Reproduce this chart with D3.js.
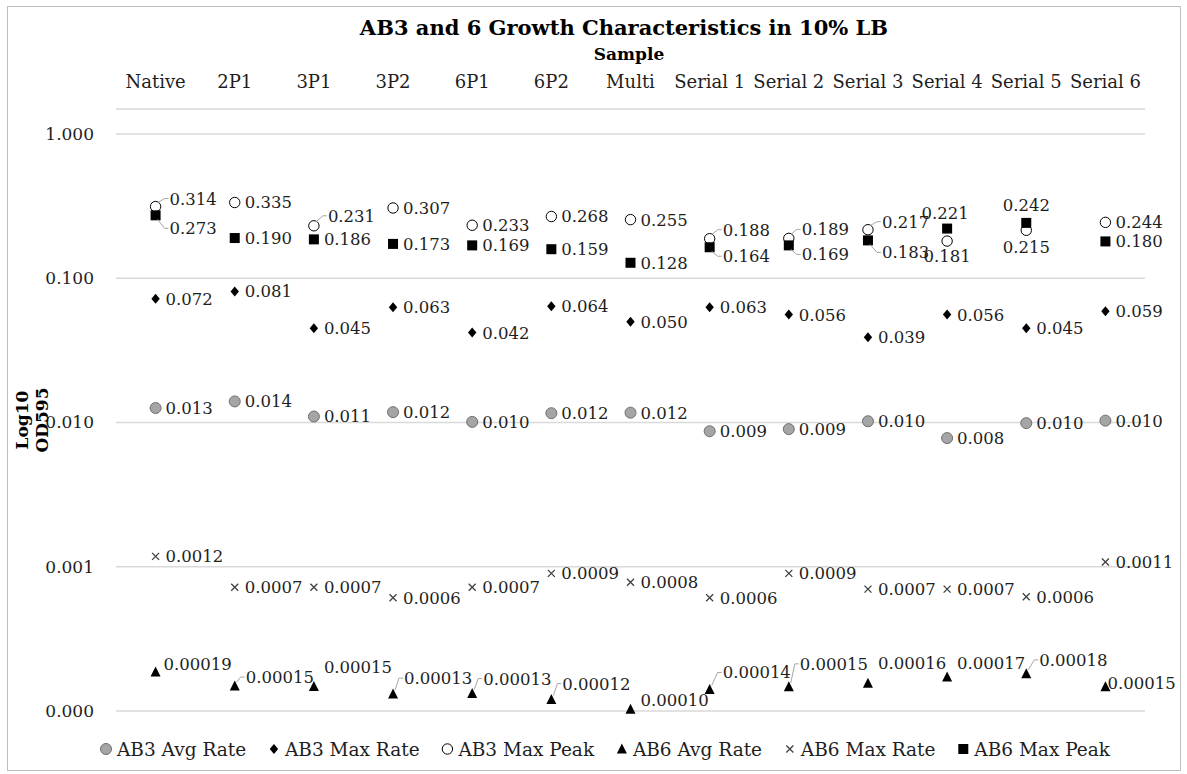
<!DOCTYPE html>
<html>
<head>
<meta charset="utf-8">
<script src="https://cdn.jsdelivr.net/npm/d3@7"></script>
<style>
  html, body { margin: 0; padding: 0; background: #fff; }
  svg { display: block; font-family: "DejaVu Serif", serif; }
</style>
</head>
<body>
<svg id="chart" width="1187" height="774"></svg>
<script>
// ---------------- DATA ----------------
const categories = ["Native", "2P1", "3P1", "3P2", "6P1", "6P2", "Multi",
  "Serial 1", "Serial 2", "Serial 3", "Serial 4", "Serial 5", "Serial 6"];

const ab3AvgRate = [0.0126, 0.0140, 0.0110, 0.0118, 0.0101, 0.0116, 0.0117, 0.0087, 0.0090, 0.0102, 0.0078, 0.0099, 0.0103];
const ab3MaxRate = [0.072, 0.081, 0.045, 0.063, 0.042, 0.064, 0.050, 0.063, 0.056, 0.039, 0.056, 0.045, 0.059];
const ab3MaxPeak = [0.314, 0.335, 0.231, 0.307, 0.233, 0.268, 0.255, 0.188, 0.189, 0.217, 0.181, 0.215, 0.244];
const ab6AvgRate = [0.000186, 0.000149, 0.000148, 0.000131, 0.000132, 0.000120, 0.000103, 0.000141, 0.000147, 0.000156, 0.000172, 0.000181, 0.000147];
const ab6MaxRate = [0.00118, 0.00072, 0.00072, 0.00061, 0.00072, 0.00090, 0.00078, 0.00061, 0.00090, 0.00070, 0.00070, 0.00062, 0.00108];
const ab6MaxPeak = [0.273, 0.190, 0.186, 0.173, 0.169, 0.159, 0.128, 0.164, 0.169, 0.183, 0.221, 0.242, 0.180];

const seriesNames = ["AB3 Avg Rate", "AB3 Max Rate", "AB3 Max Peak", "AB6 Avg Rate", "AB6 Max Rate", "AB6 Max Peak"];
const seriesDecimals = [3, 3, 3, 5, 4, 3];

const yTickValues = [1, 0.1, 0.01, 0.001, 0.0001];
const yTickLabels = ["1.000", "0.100", "0.010", "0.001", "0.000"];

const titleText = "AB3 and 6 Growth Characteristics in 10% LB";
const xAxisTitle = "Sample";
const yAxisTitleLines = ["Log10", "OD595"];

// ---------------- LAYOUT ----------------
const plot = { left: 116, right: 1145, top: 134, bottom: 711 };
const seriesValues = [ab3AvgRate, ab3MaxRate, ab3MaxPeak, ab6AvgRate, ab6MaxRate, ab6MaxPeak];
const textColor = "#1e1e1e";

// label placement tweaks (series index|category index) -> [dx, dy, anchor, leader]
const labelTweaks = {
  "2|0": [14, -8, "start", true],  "5|0": [14, 13, "start", true],
  "2|2": [14, -10, "start", true],
  "2|7": [13, -9, "start", true],  "5|7": [13, 9, "start", true],
  "2|8": [13, -9, "start", true],  "5|8": [13, 9, "start", true],
  "2|9": [14, -8, "start", true],  "5|9": [14, 12, "start", true],
  "5|10": [-2, -16, "middle", false], "2|10": [0, 15, "middle", false],
  "5|11": [0, -18, "middle", false],  "2|11": [0, 17, "middle", false],
  "3|0": [8, -8, "start", false],
  "3|1": [11, -9, "start", true],
  "3|2": [10, -19, "start", false],
  "3|3": [11, -16, "start", true],
  "3|4": [11, -15, "start", true],
  "3|5": [11, -16, "start", true],
  "3|6": [10, -9, "start", false],
  "3|7": [13, -17, "start", true],
  "3|8": [11, -23, "start", true],
  "3|9": [10, -20, "start", false],
  "3|10": [10, -14, "start", false],
  "3|11": [13, -14, "start", true],
  "3|12": [2, -4, "start", false]
};

const svg = d3.select("#chart");

// border
svg.append("rect").attr("x", 7.5).attr("y", 6.5).attr("width", 1173).attr("height", 764)
  .attr("fill", "#fff").attr("stroke", "#bfbfbf").attr("stroke-width", 1);

const x = d3.scaleBand().domain(categories).range([plot.left, plot.right]).padding(0);
const cx = c => x(c) + x.bandwidth() / 2;
const y = d3.scaleLog().domain([0.0001, 1]).range([plot.bottom, plot.top]);

// gridlines
svg.append("g").selectAll("line").data(yTickValues).join("line")
  .attr("x1", plot.left).attr("x2", plot.right)
  .attr("y1", d => y(d)).attr("y2", d => y(d))
  .attr("stroke", "#d9d9d9").attr("stroke-width", 1.5);

// category axis line on top
svg.append("line").attr("x1", plot.left).attr("x2", plot.right)
  .attr("y1", 109).attr("y2", 109).attr("stroke", "#d9d9d9").attr("stroke-width", 1.5);

// y tick labels via axis
const yAxis = d3.axisLeft(y).tickValues(yTickValues)
  .tickFormat((d, i) => yTickLabels[i]).tickSize(0).tickPadding(0);
const yg = svg.append("g").attr("transform", "translate(94,0)").call(yAxis);
yg.select(".domain").remove();
yg.selectAll("text").attr("font-family", "DejaVu Serif").attr("font-size", 17).attr("fill", textColor);

// x axis labels on top
const xAxis = d3.axisTop(x).tickSize(0).tickPadding(0);
const xg = svg.append("g").attr("transform", "translate(0,88)").call(xAxis);
xg.select(".domain").remove();
xg.selectAll("text").attr("font-family", "DejaVu Serif").attr("font-size", 18).attr("fill", textColor).attr("dy", 0);

// titles
svg.append("text").attr("x", 624).attr("y", 35).attr("text-anchor", "middle")
  .attr("font-weight", "bold").attr("font-size", 21).attr("fill", "#000").text(titleText);
svg.append("text").attr("x", 629).attr("y", 60).attr("text-anchor", "middle")
  .attr("font-weight", "bold").attr("font-size", 17).attr("fill", "#000").text(xAxisTitle);
const yt = svg.append("text").attr("transform", "translate(0,420) rotate(-90)")
  .attr("text-anchor", "middle").attr("font-weight", "bold").attr("font-size", 17).attr("fill", "#000");
yAxisTitleLines.forEach((t, i) => yt.append("tspan").attr("x", 0).attr("y", 28 + i * 20).text(t));

// marker drawing
function drawMarker(g, si) {
  switch (si) {
    case 0: g.append("circle").attr("r", 5.5).attr("fill", "#a5a5a5").attr("stroke", "#6f6f6f").attr("stroke-width", 1); break;
    case 1: g.append("path").attr("d", "M0,-5L4.2,0L0,5L-4.2,0Z").attr("fill", "#000"); break;
    case 2: g.append("circle").attr("r", 5.2).attr("fill", "#fff").attr("stroke", "#000").attr("stroke-width", 1); break;
    case 3: g.append("path").attr("d", "M0,-5.5L5,4.5L-5,4.5Z").attr("fill", "#000"); break;
    case 4: g.append("path").attr("d", "M-3.5,-3.5L3.5,3.5M3.5,-3.5L-3.5,3.5").attr("stroke", "#404040").attr("stroke-width", 1.3).attr("fill", "none"); break;
    case 5: g.append("rect").attr("x", -5).attr("y", -5).attr("width", 10).attr("height", 10).attr("fill", "#000"); break;
  }
}

const marks = svg.append("g");
const labels = svg.append("g");
const leaders = svg.append("g");

seriesValues.forEach((vals, si) => {
  vals.forEach((v, ci) => {
    const px = cx(categories[ci]), py = y(v);
    const g = marks.append("g").attr("transform", `translate(${px},${py})`);
    drawMarker(g, si);
    const tw = labelTweaks[si + "|" + ci] || [10, 0, "start", false];
    const lx = px + tw[0], ly = py + tw[1];
    labels.append("text").attr("x", lx).attr("y", ly).attr("dy", "0.36em")
      .attr("text-anchor", tw[2]).attr("font-size", 16.5).attr("fill", textColor)
      .text(v.toFixed(seriesDecimals[si]));
    if (tw[3]) {
      const sgn = tw[1] < 0 ? -1 : 1;
      leaders.append("path")
        .attr("d", `M${lx - 1},${ly}H${lx - 5}L${px + 2},${py + sgn * 4}`)
        .attr("fill", "none").attr("stroke", "#a6a6a6").attr("stroke-width", 1);
    }
  });
});

// legend: laid out sequentially, spread over the reference span
const legendLeft = 100, legendRight = 1110, legendY = 749;
const lg = svg.append("g");
const items = seriesNames.map((n, i) => {
  const g = lg.append("g");
  drawMarker(g, i);
  const t = g.append("text").attr("x", 11).attr("y", 0).attr("dy", "0.36em")
    .attr("font-size", 18.5).attr("fill", textColor).text(n);
  return { g, w: 6 + 11 + t.node().getComputedTextLength() };
});
const totalW = d3.sum(items, d => d.w);
const gap = (legendRight - legendLeft - totalW) / (items.length - 1);
let cursor = legendLeft;
items.forEach(it => {
  it.g.attr("transform", `translate(${cursor + 6},${legendY})`);
  cursor += it.w + gap;
});
</script>
</body>
</html>
